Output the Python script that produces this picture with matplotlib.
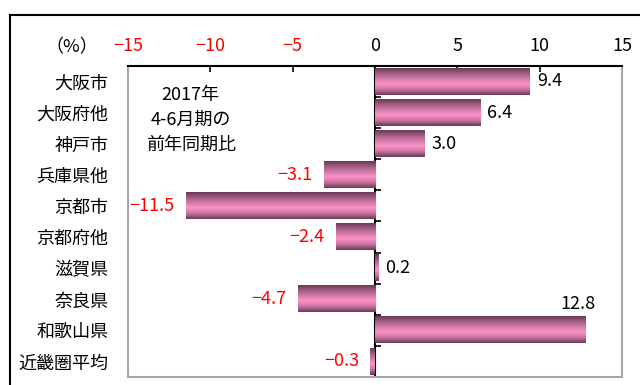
import numpy as np
import matplotlib.pyplot as plt
from matplotlib.colors import LinearSegmentedColormap
from matplotlib.lines import Line2D

plt.rcParams['font.family'] = ['Noto Sans CJK JP', 'DejaVu Sans']

regions = ["大阪市", "大阪府他", "神戸市", "兵庫県他", "京都市",
           "京都府他", "滋賀県", "奈良県", "和歌山県", "近畿圏平均"]
changes = [9.4, 6.4, 3.0, -3.1, -11.5, -2.4, 0.2, -4.7, 12.8, -0.3]
xticks = [-15, -10, -5, 0, 5, 10, 15]

num_font = ['Liberation Sans Narrow', 'Noto Sans CJK JP']
bar_h = 0.84

# cylinder-like shading for the bars
shade = LinearSegmentedColormap.from_list(
    "shade", [(0.0, "#6a3a58"), (0.25, "#b0668f"), (0.58, "#ff92c9"),
              (0.8, "#c7739f"), (1.0, "#6a3a58")])
grad = np.linspace(0, 1, 64).reshape(-1, 1)

fig = plt.figure(figsize=(6.4, 3.85), dpi=100)
ax = fig.add_axes([0.2, 0.0208, 0.772, 0.808])

y = np.arange(len(regions))
bars = ax.barh(y, changes, height=bar_h, color="none", edgecolor="none")
for b in bars:
    x0, y0 = b.get_x(), b.get_y()
    w, h = b.get_width(), b.get_height()
    ax.imshow(grad, cmap=shade, aspect="auto", interpolation="bicubic",
              extent=(x0, x0 + w, y0 + h, y0), zorder=2)

ax.set_xlim(-15, 15)
ax.set_ylim(len(regions) - 0.5, -0.5)

# value labels
for yi, v in zip(y, changes):
    if v >= 12:
        ax.annotate(f"{v:.1f}", (v, yi - bar_h / 2), xytext=(-6, 3),
                    textcoords="offset points", ha="center", va="bottom",
                    fontsize=13, family=num_font, color="black")
    elif v >= 0:
        ax.annotate(f"{v:.1f}", (v, yi), xytext=(5, 0),
                    textcoords="offset points", ha="left", va="center",
                    fontsize=13, family=num_font, color="black")
    else:
        ax.annotate(f"\u2212{abs(v):.1f}", (v, yi), xytext=(-8, 0),
                    textcoords="offset points", ha="right", va="center",
                    fontsize=13, family=num_font, color="red")

# x axis on top
ax.xaxis.tick_top()
ax.set_xticks(xticks)
ax.set_xticklabels([f"\u2212{abs(t)}" if t < 0 else str(t) for t in xticks],
                   family=num_font, fontsize=13)
for lab, t in zip(ax.get_xticklabels(), xticks):
    lab.set_color("red" if t < 0 else "black")
ax.tick_params(axis="x", direction="in", length=4, width=1.2, pad=8)

ax.set_yticks(y)
ax.set_yticklabels(regions, fontsize=13)
ax.tick_params(axis="y", length=0, pad=14)

for side in ["left", "right", "bottom"]:
    ax.spines[side].set_color("#a6a6a6")
    ax.spines[side].set_linewidth(1.5)
ax.spines["top"].set_color("black")
ax.spines["top"].set_linewidth(1.5)

# zero line with category separators pointing right
zero = ax.secondary_yaxis(0.5)
zero.set_yticks(np.arange(len(regions) + 1) - 0.5)
zero.tick_params(direction="out", length=4, width=1.2, labelleft=False,
                 labelright=False)
for s in zero.spines.values():
    s.set_color("black")
    s.set_linewidth(1.5)

ax.text(-11.2, 1.25, "2017年\n4-6月期の\n前年同期比", ha="center", va="center",
        fontsize=13, linespacing=1.5)

fig.text(72 / 640, 1 - 47 / 385, "（%）", ha="center", va="center",
         fontsize=13)

# outer frame, running off the right and bottom edges
fig.add_artist(Line2D([10 / 640, 10 / 640], [0, 1 - 15 / 385],
                      transform=fig.transFigure, color="black", lw=1.5))
fig.add_artist(Line2D([10 / 640, 1], [1 - 15 / 385, 1 - 15 / 385],
                      transform=fig.transFigure, color="black", lw=1.5))

fig.savefig("out.png", dpi=100)
